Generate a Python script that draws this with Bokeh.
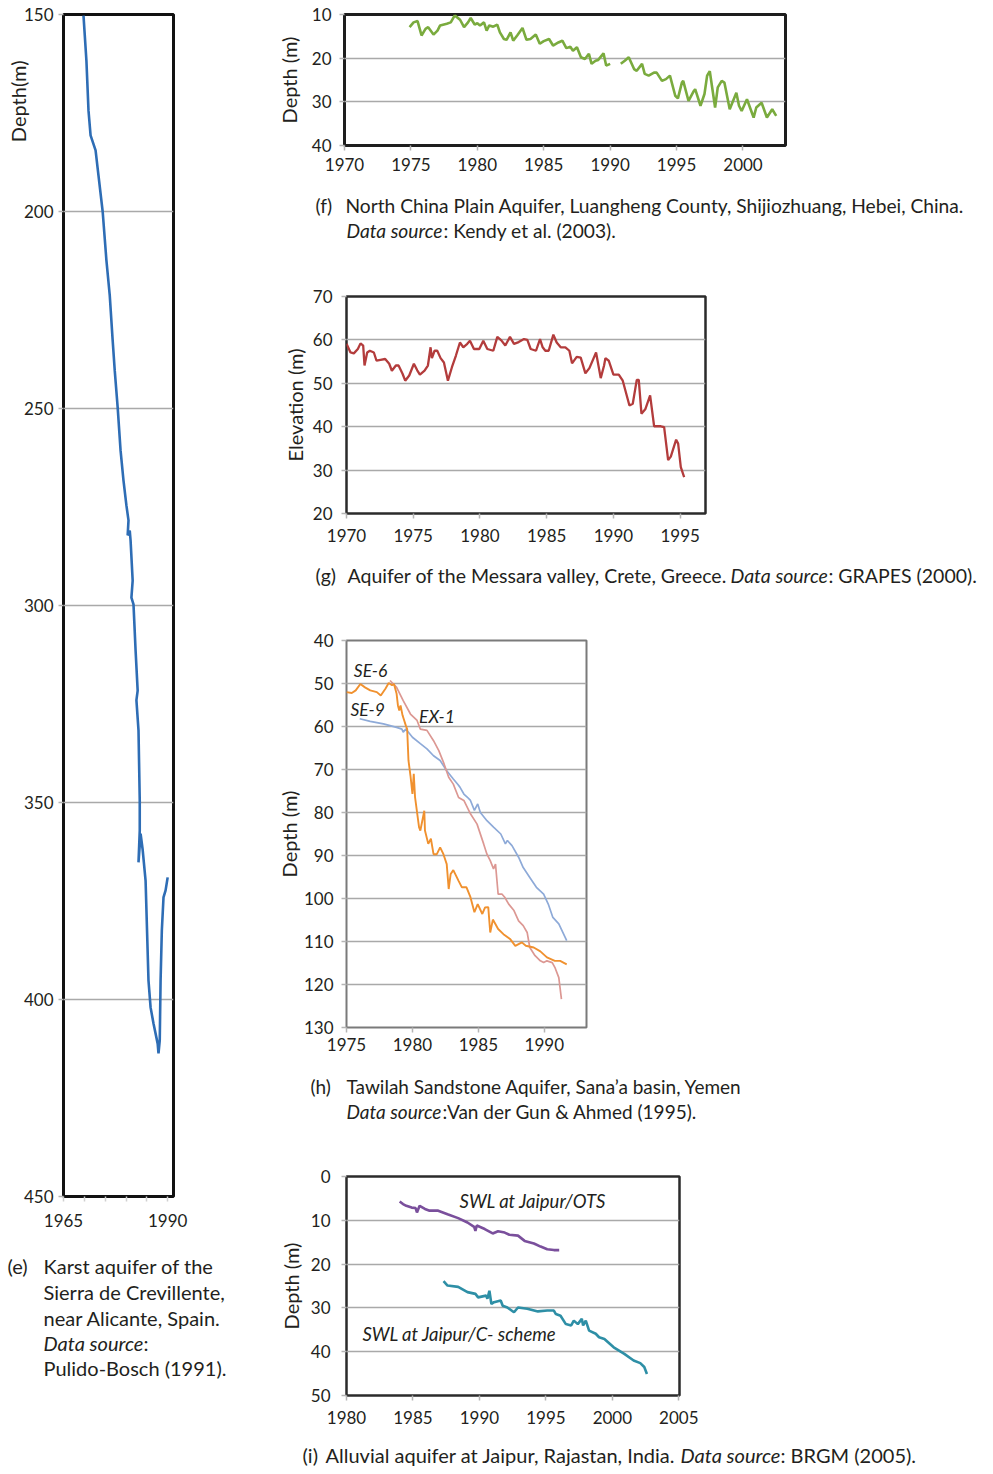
from bokeh.plotting import figure
from bokeh.models import Range1d, FixedTicker, Label, Title
from bokeh.layouts import row, column
from bokeh.embed import file_html
from bokeh.resources import INLINE

NaN = float("nan")

# ---------------- data ----------------
# (e) Sierra de Crevillente
e_year = [1969.8, 1970.5, 1971.0, 1971.5, 1972.7, 1973.4, 1974.4, 1975.3, 1976.1, 1976.8,
          1977.3, 1978.0, 1978.7, 1979.4, 1980.1, 1980.6, 1980.4, 1980.9, 1981.1, 1981.6,
          1981.3, 1981.8, 1982.3, 1982.8, 1982.5, 1983.0, 1983.3, 1983.3, 1983.0, 1983.5,
          1984.0, 1984.7, 1985.4, 1985.9, 1986.6, 1987.6, 1987.8, 1988.1, 1988.3, 1988.6,
          1989.0, 1989.5, 1990.0]
e_depth = [150.3, 161.7, 174.4, 180.7, 184.5, 190.9, 200.0, 212.4, 221.3, 232.7,
           240.4, 249.7, 260.7, 268.3, 274.6, 278.4, 282.2, 281.0, 283.5, 293.7,
           298.0, 299.7, 311.4, 321.6, 324.0, 331.7, 349.5, 357.1, 365.2, 357.9,
           362.0, 369.8, 395.2, 402.0, 406.1, 411.2, 413.7, 410.4, 395.2, 382.5,
           374.1, 372.3, 369.0]

# (f) North China Plain
f_year = [1974.9, 1975.2, 1975.5, 1975.8, 1976.1, 1976.3, 1976.7, 1977.0, 1977.2, 1977.7,
          1978.0, 1978.3, 1978.7, 1979.0, 1979.3, 1979.5, 1979.8, 1980.0, 1980.2, 1980.5,
          1980.7, 1980.9, 1981.2, 1981.5, 1981.7, 1982.0, 1982.2, 1982.5, 1982.7, 1983.0,
          1983.4, 1983.7, 1984.0, 1984.4, 1984.7, 1985.0, 1985.4, 1985.7, 1986.1, 1986.4,
          1986.7, 1987.0, 1987.2, 1987.5, 1987.8, 1988.1, 1988.4, 1988.6, 1988.9, 1989.1,
          1989.5, 1989.7, 1990.0, NaN,
          1990.8, 1991.1, 1991.4, 1991.8, 1992.0, 1992.4, 1992.6, 1992.9, 1993.3, 1993.5,
          1993.9, 1994.2, 1994.5, 1994.9, 1995.1, 1995.4, 1995.5, 1995.9, 1996.3, 1996.4,
          1996.8, 1997.1, 1997.3, 1997.5, 1997.9, 1998.1, 1998.4, 1998.6, 1999.0, 1999.5,
          1999.7, 1999.9, 2000.3, 2000.8, 2001.0, 2001.4, 2001.8, 2002.2, 2002.5]
f_depth = [12.9, 11.8, 11.5, 14.8, 13.3, 12.9, 14.6, 13.7, 12.5, 12.1,
           11.8, 10.2, 11.2, 12.9, 11.8, 10.8, 12.3, 12.0, 12.5, 11.8,
           13.7, 12.5, 12.8, 12.3, 14.1, 15.6, 15.8, 14.1, 16.0, 14.8,
           13.1, 15.8, 15.6, 14.6, 16.7, 16.1, 15.6, 17.1, 16.4, 16.0,
           17.7, 17.4, 18.3, 17.5, 19.8, 20.2, 19.0, 21.3, 20.6, 20.4,
           18.9, 21.7, 21.3, NaN,
           21.3, 20.6, 19.8, 22.5, 22.9, 21.3, 23.6, 24.0, 23.3, 23.3,
           25.2, 24.8, 24.0, 28.6, 29.2, 25.6, 25.2, 29.8, 27.5, 27.1,
           30.9, 28.2, 24.0, 23.0, 31.3, 26.7, 25.2, 25.6, 31.7, 27.9,
           30.9, 32.1, 29.4, 33.6, 31.3, 30.2, 33.6, 31.7, 33.2]

# (g) Messara valley
g_year = [1970.0, 1970.3, 1970.55, 1970.85, 1971.05, 1971.25, 1971.35, 1971.55, 1971.75, 1972.05,
          1972.25, 1972.55, 1972.9, 1973.2, 1973.4, 1973.7, 1973.9, 1974.2, 1974.4, 1974.7,
          1975.05, 1975.3, 1975.5, 1975.85, 1976.1, 1976.3, 1976.4, 1976.6, 1976.8, 1977.05,
          1977.3, 1977.6, 1977.9, 1978.2, 1978.5, 1978.75, 1979.05, 1979.25, 1979.55, 1979.95,
          1980.25, 1980.55, 1981.0, 1981.3, 1981.6, 1981.9, 1982.25, 1982.55, 1982.9, 1983.3,
          1983.55, 1983.8, 1984.2, 1984.5, 1984.7, 1984.9, 1985.15, 1985.5, 1985.75, 1986.05,
          1986.4, 1986.7, 1986.9, 1987.25, 1987.55, 1987.9, 1988.2, 1988.7, 1989.05, 1989.3,
          1989.4, 1989.65, 1990.0, 1990.4, 1990.7, 1991.2, 1991.45, 1991.75, 1991.9, 1992.1,
          1992.4, 1992.75, 1993.05, 1993.55, 1993.8, 1994.1, 1994.3, 1994.7, 1994.85, 1995.05,
          1995.3]
g_elev = [59.1, 57.1, 56.9, 57.9, 59.2, 58.7, 54.1, 57.1, 57.5, 57.1,
          55.2, 55.4, 55.6, 54.5, 52.9, 54.1, 54.1, 52.2, 50.6, 51.8,
          54.5, 53.0, 52.0, 52.9, 54.1, 58.3, 55.8, 57.5, 57.5, 55.8,
          54.8, 50.6, 53.7, 56.4, 59.4, 58.3, 59.1, 59.8, 57.9, 57.9,
          59.8, 57.9, 57.5, 60.7, 59.9, 58.7, 60.7, 59.1, 59.5, 60.2,
          60.0, 57.9, 57.5, 60.2, 58.3, 57.5, 57.5, 61.2, 59.4, 58.3,
          58.3, 57.5, 54.6, 56.1, 55.9, 52.3, 53.5, 57.1, 51.2, 54.1,
          55.8, 55.2, 52.0, 52.0, 50.6, 44.9, 45.3, 50.8, 50.8, 43.0,
          44.1, 47.2, 40.1, 40.1, 39.9, 32.3, 33.1, 37.0, 36.1, 30.7,
          28.4]

# (h) Tawilah Sandstone Aquifer
h_se6_year = [1975.0, 1975.4, 1975.7, 1976.05, 1976.4, 1976.8, 1977.3, 1977.6, 1977.95, 1978.2,
              1978.45, 1978.6, 1978.8, 1978.9, 1979.0, 1979.1, 1979.25, 1979.5, 1979.6, 1979.7,
              1979.85, 1980.0, 1980.1, 1980.2, 1980.5, 1980.6, 1980.9, 1980.95, 1981.2, 1981.4,
              1981.6, 1981.85, 1982.1, 1982.35, 1982.6, 1982.75, 1982.9, 1983.1, 1983.5, 1983.75,
              1984.1, 1984.4, 1984.7, 1984.95, 1985.3, 1985.5, 1985.75, 1985.9, 1986.1, 1986.5,
              1986.9, 1987.4, 1987.8, 1988.3, 1988.6, 1989.2, 1989.7, 1990.2, 1990.8, 1991.2,
              1991.7]
h_se6_depth = [52.0, 52.2, 51.6, 50.1, 50.9, 51.6, 52.0, 52.8, 51.2, 49.9,
               50.4, 50.1, 52.4, 55.1, 56.3, 55.1, 57.4, 59.8, 60.6, 67.9,
               71.4, 75.7, 71.0, 76.5, 83.4, 84.2, 79.6, 84.2, 87.3, 86.1,
               89.7, 89.7, 88.1, 89.7, 92.0, 97.8, 94.3, 93.4, 95.9, 97.4,
               97.4, 99.7, 103.2, 101.3, 103.6, 102.1, 102.0, 107.9, 104.9, 107.1,
               108.3, 109.4, 111.0, 110.2, 111.0, 111.4, 112.3, 113.7, 114.5, 114.5,
               115.3]
h_ex1_year = [1978.3, 1978.8, 1979.3, 1979.85, 1980.35, 1980.6, 1981.1, 1981.6, 1982.0, 1982.4,
              1982.75, 1983.1, 1983.5, 1983.9, 1984.4, 1984.9, 1985.4, 1985.65, 1985.9, 1986.15,
              1986.3, 1986.5, 1986.8, 1987.0, 1987.3, 1987.7, 1988.05, 1988.4, 1988.7, 1988.9,
              1989.3, 1989.7, 1989.95, 1990.2, 1990.6, 1990.8, 1991.1, 1991.3]
h_ex1_depth = [49.3, 50.9, 54.0, 57.1, 58.6, 60.6, 60.9, 63.3, 65.6, 68.7,
               71.8, 73.4, 76.5, 77.2, 80.3, 82.7, 87.3, 89.7, 91.2, 93.1,
               92.0, 99.0, 99.0, 99.7, 101.3, 102.8, 105.2, 106.3, 107.9, 111.4,
               113.3, 114.5, 114.9, 114.5, 114.9, 116.0, 118.4, 123.4]
h_se9_year = [1976.0, 1976.8, 1977.8, 1978.8, 1979.2, 1979.3, 1979.5, 1980.0, 1980.6, 1981.1,
              1981.6, 1982.1, 1982.6, 1983.1, 1983.45, 1983.6, 1983.9, 1984.15, 1984.4, 1984.7,
              1984.95, 1985.15, 1985.65, 1986.15, 1986.7, 1987.05, 1987.2, 1987.55, 1988.05, 1988.4,
              1988.9, 1989.4, 1989.95, 1990.3, 1990.65, 1991.1, 1991.7]
h_se9_depth = [58.2, 58.8, 59.4, 60.2, 60.6, 61.3, 60.6, 62.5, 64.0, 65.2,
               66.8, 67.9, 70.3, 72.2, 73.5, 74.1, 75.7, 76.4, 77.2, 79.5,
               78.0, 80.0, 81.9, 83.4, 85.0, 87.3, 86.5, 87.7, 90.4, 92.8,
               95.1, 97.4, 99.0, 101.3, 104.4, 105.9, 109.8]

# (i) Jaipur
i_ots_year = [1984.0, 1984.25, 1984.5, 1984.9, 1985.2, 1985.3, 1985.5, 1985.9, 1986.25, 1986.9,
              1987.6, 1988.4, 1989.1, 1989.6, 1989.7, 1989.8, 1990.4, 1991.0, 1991.4, 1991.9,
              1992.25, 1992.9, 1993.4, 1994.1, 1994.6, 1995.1, 1995.6, 1996.0]
i_ots_depth = [5.7, 6.3, 6.7, 7.1, 7.2, 8.2, 6.7, 7.4, 7.8, 7.8,
               8.6, 9.5, 10.5, 11.5, 12.4, 11.2, 12.0, 13.0, 12.5, 12.8,
               13.3, 13.5, 14.7, 15.3, 16.0, 16.6, 16.8, 16.8]
i_cs_year = [1987.3, 1987.6, 1988.4, 1989.1, 1989.7, 1989.9, 1990.5, 1990.6, 1990.75, 1990.9,
             1991.1, 1991.6, 1991.75, 1992.1, 1992.6, 1992.9, 1993.6, 1994.4, 1995.1, 1995.6,
             1995.75, 1996.1, 1996.5, 1996.9, 1997.1, 1997.4, 1997.7, 1997.8, 1998.0, 1998.25,
             1998.75, 1999.0, 1999.4, 2000.1, 2000.9, 2001.6, 2002.1, 2002.4, 2002.6]
i_cs_depth = [23.9, 24.9, 25.2, 26.4, 26.8, 27.6, 27.2, 27.9, 26.1, 29.1,
              28.7, 28.3, 29.5, 29.9, 31.0, 29.9, 30.2, 30.8, 30.6, 30.6,
              31.4, 31.8, 33.7, 34.0, 32.9, 33.7, 32.5, 34.0, 32.9, 35.2,
              35.9, 36.7, 37.1, 39.0, 40.5, 42.0, 42.6, 43.5, 45.1]

# ---------------- styling helpers ----------------
FONT = "Lato"
TXT = "#231f20"
GRID = "#a9a9a9"
TICKF = "17px"
CAPW = 720


def base(xr, yr, fw, fh, bl, br, bt, bb, xticks, yticks, xstand=5, ystand=8,
         ylabel=None, ylabel_standoff=8, outline="#2b2b2b", outline_w=2.5, tickf=TICKF):
    p = figure(frame_width=fw, frame_height=fh,
               x_range=Range1d(*xr), y_range=Range1d(*yr),
               min_border_left=bl, min_border_right=br,
               min_border_top=bt, min_border_bottom=bb,
               output_backend="svg", toolbar_location=None, tools="")
    p.frame_align = False
    p.xgrid.visible = False
    p.ygrid.grid_line_color = GRID
    p.ygrid.grid_line_width = 1.6
    p.xaxis.ticker = FixedTicker(ticks=xticks)
    p.yaxis.ticker = FixedTicker(ticks=yticks)
    for ax in (p.xaxis[0], p.yaxis[0]):
        ax.axis_line_color = None
        ax.major_tick_line_color = "#b5b5b5"
        ax.major_tick_line_width = 1.5
        ax.major_tick_in = 0
        ax.major_tick_out = 5
        ax.minor_tick_line_color = None
        ax.major_label_text_font = FONT
        ax.major_label_text_font_size = tickf
        ax.major_label_text_color = TXT
    p.xaxis.major_label_standoff = xstand
    p.yaxis.major_label_standoff = ystand
    if ylabel:
        p.yaxis.axis_label = ylabel
        p.yaxis.axis_label_text_font = FONT
        p.yaxis.axis_label_text_font_size = "20px"
        p.yaxis.axis_label_text_font_style = "normal"
        p.yaxis.axis_label_text_color = TXT
        p.yaxis.axis_label_standoff = ylabel_standoff
    p.outline_line_color = outline
    p.outline_line_width = outline_w
    p.background_fill_color = "white"
    p.border_fill_color = "white"
    return p


def capfig(w, h):
    c = figure(width=w, height=h, x_range=Range1d(0, w), y_range=Range1d(h, 0),
               min_border=0, x_axis_location=None, y_axis_location=None,
               output_backend="svg", toolbar_location=None, tools="")
    c.frame_align = False
    c.grid.visible = False
    c.outline_line_color = None
    c.background_fill_color = "white"
    c.border_fill_color = "white"
    return c


def cap(c, x, y, text, italic=False, size="20px"):
    c.add_layout(Label(x=x, y=y, text=text, text_font=FONT, text_font_size=size,
                       text_font_style="italic" if italic else "normal",
                       text_color=TXT, text_align="left", text_baseline="middle"))


# ---------------- (e) ----------------
pe = base((1965, 1991.4), (450, 150), 110, 1182, 63, 97, 14, 44,
          [1965, 1970, 1975, 1980, 1985, 1990], [150, 200, 250, 300, 350, 400, 450],
          xstand=12, ystand=5, outline="#111111", outline_w=3)
pe.xaxis.major_label_overrides = {1970: "", 1975: "", 1980: "", 1985: ""}
pe.xaxis.major_tick_line_color = "#d0d0d0"
pe.line(e_year, e_depth, line_color="#2e6db5", line_width=2.6)
e_title = Title(text="Depth(m)", align="right", offset=46, standoff=0,
                text_font=FONT, text_font_size="20px", text_font_style="normal",
                text_color=TXT)
try:
    e_title.standoff = -18
except Exception:
    e_title.standoff = 0
    e_title.text_font_size = "18px"
    pe.yaxis.major_label_standoff = 1
pe.add_layout(e_title, "left")

ce = capfig(270, 226)
cap(ce, 7, 25, "(e)")
cap(ce, 43, 25, "Karst aquifer of the")
cap(ce, 43, 51, "Sierra de Crevillente,")
cap(ce, 43, 77, "near Alicante, Spain.")
cap(ce, 43, 102, "Data source", italic=True)
cap(ce, 143, 102, ":")
cap(ce, 43, 127, "Pulido-Bosch (1991).")

# ---------------- (f) ----------------
pf = base((1970, 2003.2), (40, 10), 441, 131, 74, 200, 14, 40,
          [1970, 1975, 1980, 1985, 1990, 1995, 2000], [10, 20, 30, 40],
          xstand=7, ystand=8, ylabel="Depth (m)", ylabel_standoff=8,
          outline="#1e1e1e", outline_w=3)
pf.line(f_year, f_depth, line_color="#7aab3e", line_width=2.6)

cf = capfig(CAPW, 70)
cap(cf, 45, 20, "(f)", size="19.2px")
cap(cf, 75, 20, "North China Plain Aquifer, Luangheng County, Shijiozhuang, Hebei, China.",
    size="19.2px")
cap(cf, 76, 45, "Data source", italic=True, size="19.2px")
cap(cf, 173, 45, ": Kendy et al. (2003).", size="19.2px")

# ---------------- (g) ----------------
pg = base((1970, 1996.9), (20, 70), 359, 217, 76, 280, 41, 40,
          [1970, 1975, 1980, 1985, 1990, 1995], [20, 30, 40, 50, 60, 70],
          xstand=10, ystand=9, ylabel="Elevation (m)", ylabel_standoff=3,
          outline="#2b2b2b", outline_w=2.5)
pg.line(g_year, g_elev, line_color="#b33c3c", line_width=2.3)

cg = capfig(CAPW, 47)
cap(cg, 45, 22, "(g)", size="19.5px")
cap(cg, 77, 22, "Aquifer of the Messara valley, Crete, Greece.", size="19.5px")
cap(cg, 460, 22, "Data source", italic=True, size="19.5px")
cap(cg, 558, 22, ": GRAPES (2000).", size="19.5px")

# ---------------- (h) ----------------
ph = base((1975, 1993.2), (130, 40), 240, 387, 76, 399, 40, 40,
          [1975, 1980, 1985, 1990], list(range(40, 131, 10)),
          xstand=5, ystand=8, ylabel="Depth (m)", ylabel_standoff=0,
          outline="#7a7a7a", outline_w=2)
ph.line(h_se9_year, h_se9_depth, line_color="#8eaad8", line_width=1.7)
ph.line(h_ex1_year, h_ex1_depth, line_color="#dc9893", line_width=1.7)
ph.line(h_se6_year, h_se6_depth, line_color="#f0912f", line_width=1.9)
for t, x, y in (("SE-6", 1975.55, 47.0), ("SE-9", 1975.3, 56.1), ("EX-1", 1980.5, 57.7)):
    ph.add_layout(Label(x=x, y=y, text=t, text_font=FONT, text_font_size="17.5px",
                        text_font_style="italic", text_color=TXT,
                        text_align="left", text_baseline="middle"))

ch = capfig(CAPW, 68)
cap(ch, 40, 19, "(h)", size="19px")
cap(ch, 76, 19, "Tawilah Sandstone Aquifer, Sana\u2019a basin, Yemen", size="19px")
cap(ch, 76, 44, "Data source", italic=True, size="19px")
cap(ch, 172, 44, ":Van der Gun & Ahmed (1995).", size="19px")

# ---------------- (i) ----------------
pi_ = base((1980, 2005.05), (50, 0), 333, 219, 76, 306, 41, 40,
           [1980, 1985, 1990, 1995, 2000, 2005], [0, 10, 20, 30, 40, 50],
           xstand=10, ystand=11, ylabel="Depth (m)", ylabel_standoff=5,
           outline="#2b2b2b", outline_w=2.5)
pi_.line(i_ots_year, i_ots_depth, line_color="#7a4f9c", line_width=2.6)
pi_.line(i_cs_year, i_cs_depth, line_color="#2e8fa6", line_width=2.6)
for t, x, y in (("SWL at Jaipur/OTS", 1988.5, 5.7), ("SWL at Jaipur/C- scheme", 1981.2, 35.9)):
    pi_.add_layout(Label(x=x, y=y, text=t, text_font=FONT, text_font_size="18.5px",
                         text_font_style="italic", text_color=TXT,
                         text_align="left", text_baseline="middle"))

ci = capfig(CAPW, 35)
cap(ci, 32, 19, "(i)")
cap(ci, 55, 19, "Alluvial aquifer at Jaipur, Rajastan, India.")
cap(ci, 410, 19, "Data source", italic=True)
cap(ci, 510, 19, ": BRGM (2005).")

layout = row(column(pe, ce), column(pf, cf, pg, cg, ph, ch, pi_, ci))
open("out.html", "w").write(file_html(layout, INLINE))
